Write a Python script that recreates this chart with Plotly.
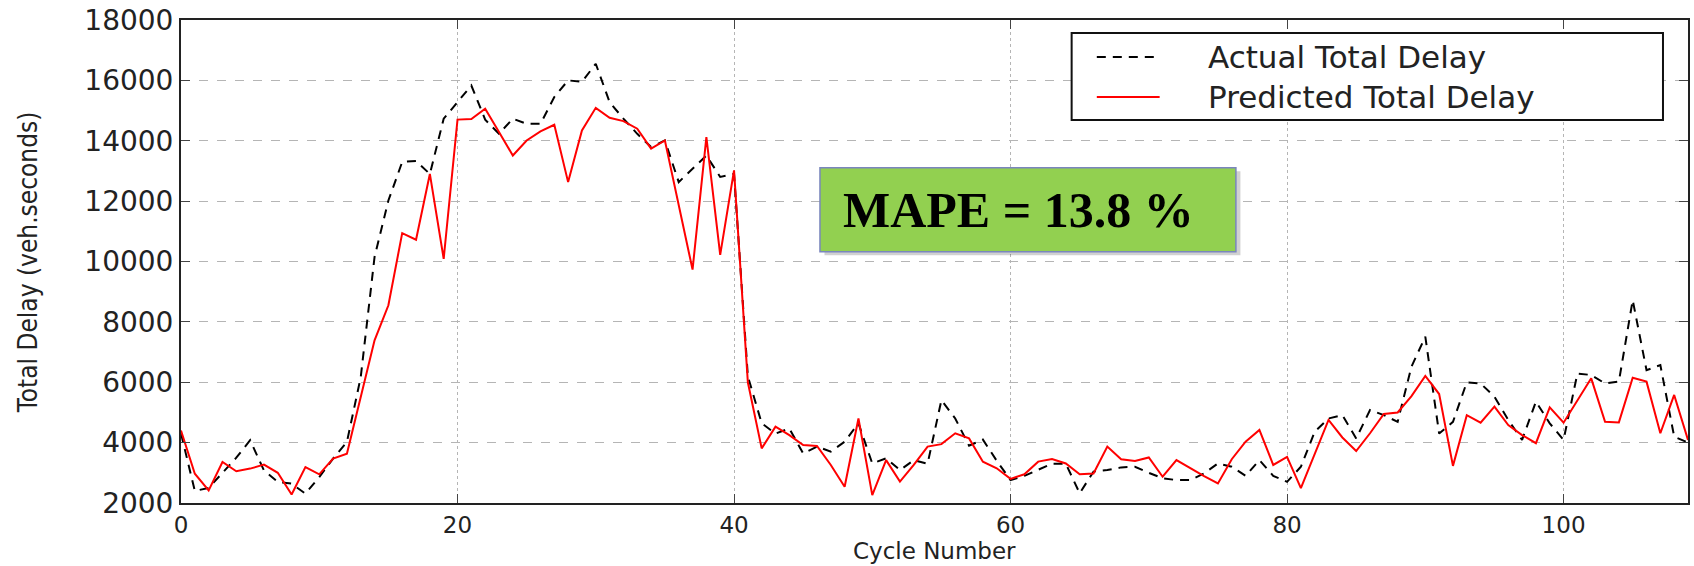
import plotly.graph_objects as go

cycles = list(range(110))

actual_delay = [
    4300, 2400, 2500, 3000, 3500, 4080, 3080, 2700, 2640, 2310,
    2860, 3470, 4020, 6170, 10150, 12020, 13300, 13330, 12900, 14730,
    15280, 15830, 14700, 14230, 14730, 14560, 14560, 15450, 16000, 15950,
    16550, 15280, 14730, 14230, 13790, 14010, 12630, 13070, 13510, 12800,
    12900, 6200, 4640, 4300, 4470, 3640, 3870, 3700, 4030, 4640,
    3310, 3480, 3090, 3420, 3300, 5410, 4800, 3900, 4100, 3400,
    2760, 2900, 3100, 3300, 3300, 2320, 3040, 3090, 3180, 3200,
    3000, 2820, 2760, 2760, 2980, 3310, 3200, 2900, 3420, 2900,
    2700, 3200, 4360, 4800, 4910, 4140, 5080, 4910, 4690, 6520,
    7510, 4300, 4690, 6000, 5960, 5520, 4750, 4090, 5360, 4640,
    4090, 6290, 6240, 5960, 6020, 8720, 6400, 6570, 4200, 4000,
]

predicted_delay = [
    4400, 2970, 2420, 3360, 3050, 3140, 3270, 3000, 2280, 3190,
    2950, 3470, 3630, 5510, 7390, 8550, 10940, 10720, 12900, 10090,
    14700, 14720, 15060, 14290, 13510, 14010, 14310, 14530, 12630, 14340,
    15090, 14760, 14650, 14400, 13740, 14010, 11860, 9730, 14120, 10220,
    13020, 6000, 3810, 4530, 4250, 3920, 3890, 3260, 2540, 4800,
    2260, 3420, 2710, 3260, 3870, 3950, 4310, 4140, 3370, 3150,
    2800, 2950, 3370, 3460, 3310, 2950, 2980, 3870, 3450, 3390,
    3510, 2870, 3420, 3150, 2890, 2650, 3450, 4030, 4420, 3260,
    3530, 2490, 3620, 4750, 4170, 3720, 4310, 4950, 5000, 5540,
    6210, 5610, 3230, 4910, 4660, 5190, 4580, 4250, 3980, 5170,
    4660, 5410, 6130, 4690, 4670, 6150, 6020, 4310, 5580, 4090,
]

x_ticks = [0, 20, 40, 60, 80, 100]
y_ticks = [2000, 4000, 6000, 8000, 10000, 12000, 14000, 16000, 18000]
series_names = ["Actual Total Delay", "Predicted Total Delay"]
mape_label = "MAPE = 13.8 %"

actual_line = dict(color="#000000", width=2, dash="9px,7px")
predicted_line = dict(color="#ff0000", width=2)

fig = go.Figure()
fig.add_trace(go.Scatter(x=cycles, y=actual_delay, mode="lines",
                         name=series_names[0], line=actual_line, showlegend=False))
fig.add_trace(go.Scatter(x=cycles, y=predicted_delay, mode="lines",
                         name=series_names[1], line=predicted_line, showlegend=False))

y_tick_font = dict(family="DejaVu Sans", size=28, color="#222222")
x_tick_font = dict(family="DejaVu Sans", size=23, color="#222222")

fig.update_xaxes(
    range=[0, 109], tickvals=x_ticks, ticktext=[str(v) for v in x_ticks],
    showgrid=True, gridcolor="#b5b5b5", griddash="dot", gridwidth=1,
    zeroline=False, showline=True, linecolor="#222222", linewidth=2, mirror="allticks",
    ticks="inside", ticklen=9, tickcolor="#444444", tickwidth=1,
    tickfont=x_tick_font,
)
fig.update_yaxes(
    range=[2000, 18000], tickvals=y_ticks, ticktext=[str(v) for v in y_ticks],
    showgrid=True, gridcolor="#b5b5b5", griddash="dash", gridwidth=1,
    zeroline=False, showline=True, linecolor="#222222", linewidth=2, mirror="allticks",
    ticks="inside", ticklen=9, tickcolor="#444444", tickwidth=1,
    tickfont=y_tick_font,
)

# axis titles placed by hand
fig.add_annotation(xref="paper", yref="paper", x=0.5, y=-0.1304,
                   xanchor="center", yanchor="bottom",
                   text="Cycle Number", showarrow=False,
                   font=dict(family="DejaVu Sans", size=23, color="#222222"))
fig.add_annotation(xref="paper", yref="paper", x=-0.1014, y=0.497,
                   xanchor="center", yanchor="middle",
                   text="Total Delay (veh.seconds)", textangle=-90, showarrow=False,
                   font=dict(family="DejaVu Sans Condensed, Liberation Sans Narrow, Open Sans",
                             size=26, color="#222222"))

# legend box drawn as shapes + text
fig.add_shape(type="rect", xref="paper", yref="paper",
              x0=0.591, x1=0.9834, y0=0.7930, y1=0.9731,
              fillcolor="white", line=dict(color="#111111", width=2), layer="above")
legend_rows_y = [0.9234, 0.8406]
for name, style, ry in zip(series_names, [actual_line, predicted_line], legend_rows_y):
    fig.add_shape(type="line", xref="paper", yref="paper",
                  x0=0.6077, x1=0.6494, y0=ry, y1=ry,
                  line=dict(color=style["color"], width=2, dash=style.get("dash", "solid")),
                  layer="above")
    fig.add_annotation(xref="paper", yref="paper", x=0.680, y=ry,
                       xanchor="left", yanchor="middle", text=name, showarrow=False,
                       font=dict(family="DejaVu Sans", size=31, color="#222222"))

# MAPE callout box with a soft drop shadow
fig.add_shape(type="rect", xref="paper", yref="paper",
              x0=0.427, x1=0.703, y0=0.513, y1=0.687,
              fillcolor="rgba(0,0,0,0.18)", line=dict(width=0), layer="above")
fig.add_shape(type="rect", xref="paper", yref="paper",
              x0=0.424, x1=0.700, y0=0.520, y1=0.694,
              fillcolor="#92d050", line=dict(color="#7a86bd", width=1.5), layer="above")
fig.add_annotation(xref="paper", yref="paper", x=0.556, y=0.607,
                   text="<b>" + mape_label + "</b>", showarrow=False,
                   font=dict(family="Liberation Serif", size=50, color="#000000"))

fig.update_layout(
    width=1694, height=566,
    margin=dict(l=181, r=4, t=20, b=63),
    paper_bgcolor="white", plot_bgcolor="white",
    showlegend=False,
)

fig.write_html("out.html")
